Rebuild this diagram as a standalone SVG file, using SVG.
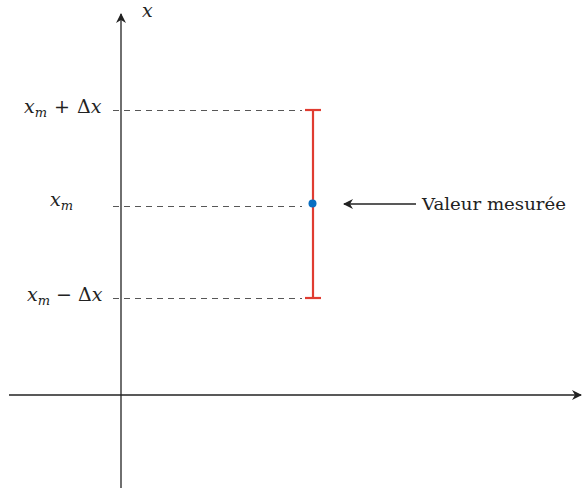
<svg xmlns="http://www.w3.org/2000/svg" width="582" height="488" viewBox="0 0 582 488">
<style>
.m{font-family:"DejaVu Serif",serif;font-style:italic;font-size:19px;fill:#222}
.r{font-family:"DejaVu Serif",serif;font-style:normal;font-size:19px;fill:#222}
.sub{font-size:13px}
.t{font-family:"DejaVu Serif",serif;font-size:16px;fill:#222}
.ax{stroke:#222;stroke-width:1.3;fill:none}
.dash{stroke:#444;stroke-width:0.9;stroke-dasharray:6,5;fill:none}
</style>
<defs>
<marker id="ah" viewBox="0 0 10 10" refX="9" refY="5" markerWidth="10" markerHeight="10" markerUnits="userSpaceOnUse" orient="auto">
<path d="M0,0 L10,5 L0,10 L3,5 Z" fill="#222"/>
</marker>
</defs>
<g id="axes">
<line class="ax" x1="121" y1="488" x2="121" y2="14" marker-end="url(#ah)"/>
<line class="ax" x1="9" y1="395" x2="581" y2="395" marker-end="url(#ah)"/>
<text class="m" x="142" y="17">x</text>
</g>
<g id="guides">
<line class="dash" x1="113" y1="110.5" x2="302" y2="110.5"/>
<line class="dash" x1="113" y1="206.5" x2="302" y2="206.5"/>
<line class="dash" x1="113" y1="298.5" x2="302" y2="298.5"/>
</g>
<g id="labels">
<text class="m" x="24" y="113">x<tspan class="sub" dy="4">m</tspan><tspan class="r" dy="-4" dx="7">+</tspan><tspan class="r" dx="7">Δ</tspan>x</text>
<text class="m" x="50" y="206">x<tspan class="sub" dy="4">m</tspan></text>
<text class="m" x="27" y="301">x<tspan class="sub" dy="4">m</tspan><tspan class="r" dy="-4" dx="6">−</tspan><tspan class="r" dx="6">Δ</tspan>x</text>
</g>
<g id="errorbar">
<line x1="313" y1="110" x2="313" y2="298" stroke="#e03c31" stroke-width="2.2"/>
<line x1="305" y1="110" x2="321" y2="110" stroke="#e03c31" stroke-width="2.2"/>
<line x1="305" y1="298" x2="321" y2="298" stroke="#e03c31" stroke-width="2.2"/>
<circle cx="312.5" cy="203.5" r="4" fill="#0a6fc2"/>
</g>
<g id="connectors">
<line class="ax" x1="416" y1="204" x2="344" y2="204" stroke-width="1" marker-end="url(#ah)"/>
</g>
<g id="note">
<text class="t" x="422" y="210" textLength="144" lengthAdjust="spacingAndGlyphs">Valeur mesurée</text>
</g>
</svg>
